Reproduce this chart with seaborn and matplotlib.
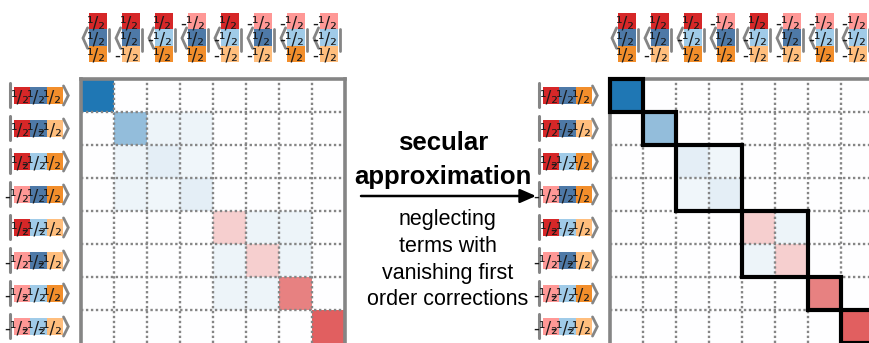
import numpy as np
import pandas as pd
import matplotlib
matplotlib.use("Agg")
import matplotlib.pyplot as plt
from matplotlib.colors import LinearSegmentedColormap
from matplotlib.patches import Rectangle
from matplotlib.lines import Line2D
import seaborn as sns

sns.set_theme(style="white")
plt.rcParams["font.family"] = ["Liberation Sans", "DejaVu Sans"]

# m_s of the three spins for each product basis state
spin_a = [0.5, 0.5, 0.5, -0.5, 0.5, -0.5, -0.5, -0.5]
spin_b = [0.5, 0.5, -0.5, 0.5, -0.5, 0.5, -0.5, -0.5]
spin_c = [0.5, -0.5, 0.5, 0.5, -0.5, -0.5, 0.5, -0.5]

# signed, normalised matrix elements in the product basis
full_matrix = [
    [1.00, 0.00, 0.00, 0.00, 0.00, 0.00, 0.00, 0.00],
    [0.00, 0.48, 0.08, 0.08, 0.00, 0.00, 0.00, 0.00],
    [0.00, 0.08, 0.12, 0.07, 0.00, 0.00, 0.00, 0.00],
    [0.00, 0.08, 0.07, 0.12, 0.00, 0.00, 0.00, 0.00],
    [0.00, 0.00, 0.00, 0.00, -0.22, 0.08, 0.08, 0.00],
    [0.00, 0.00, 0.00, 0.00, 0.08, -0.22, 0.08, 0.00],
    [0.00, 0.00, 0.00, 0.00, 0.08, 0.08, -0.58, 0.00],
    [0.00, 0.00, 0.00, 0.00, 0.00, 0.00, 0.00, -0.74],
]

# degenerate blocks kept by the secular approximation
secular_blocks = [[0], [1], [2, 3], [4, 5], [6], [7]]

# colours for +1/2 / -1/2 of each spin
palette_a = {0.5: "#d62728", -0.5: "#ff9896"}
palette_b = {0.5: "#4e79a7", -0.5: "#a0cbe8"}
palette_c = {0.5: "#f28e2b", -0.5: "#ffbe7d"}

GREY = "#858585"
TXT = "#1a1a1a"
PX = 1 / 33.0  # one pixel in cell units

full = pd.DataFrame(full_matrix)
mask = np.zeros((8, 8), dtype=bool)
for blk in secular_blocks:
    for i in blk:
        for j in blk:
            mask[i, j] = True
secular = full.where(mask, 0.0)

cmap = LinearSegmentedColormap.from_list("rwb", ["#d62728", "#ffffff", "#1f77b4"])

W, H = 869, 343
fig = plt.figure(figsize=(W / 100, H / 100), dpi=100)
fig.patch.set_facecolor("white")

CELL = 33.0
ax_l = fig.add_axes([81 / W, 0, 8 * CELL / W, 8 * CELL / H])
ax_r = fig.add_axes([610 / W, 0, 8 * CELL / W, 8 * CELL / H])


def half_label(v):
    return "\u00b9/\u2082" if v > 0 else "-\u00b9/\u2082"


def spin_text(ax, x_right, y_base, v):
    ax.text(x_right, y_base, half_label(v), ha="right", va="baseline",
            fontsize=12, family=["DejaVu Sans"], color=TXT,
            clip_on=False, zorder=3)


def draw_matrix(ax, data, right_spine=True):
    sns.heatmap(data, ax=ax, cmap=cmap, vmin=-1, vmax=1, cbar=False,
                xticklabels=False, yticklabels=False, square=False)
    ax.set_xlim(0, 8)
    ax.set_ylim(8, 0)
    for k in range(1, 8):
        ax.axhline(k, color=GREY, lw=1.7, ls=(0, (1, 1.1)), zorder=3)
        ax.axvline(k, color=GREY, lw=1.7, ls=(0, (1, 1.1)), zorder=3)
    for s in ["top", "left", "right", "bottom"]:
        ax.spines[s].set_visible(s != "bottom" and (right_spine or s != "right"))
        ax.spines[s].set_color(GREY)
        ax.spines[s].set_linewidth(2.6)
        ax.spines[s].set_zorder(4)
    ax.set_xlabel("")
    ax.set_ylabel("")

    spins = [(spin_a, palette_a), (spin_b, palette_b), (spin_c, palette_c)]
    bh = 0.495
    # bras above the columns
    for j in range(8):
        cx = j + 0.5
        for k, (vals, pal) in enumerate(spins):
            y0 = -2.0 + k * bh
            ax.add_patch(Rectangle((cx - 0.27, y0), 0.545, bh, fc=pal[vals[j]],
                                   ec="none", clip_on=False, zorder=2))
            spin_text(ax, cx + 0.275 - 0.8 * PX, y0 + bh - 1.2 * PX, vals[j])
        ax.add_line(Line2D([cx - 0.30, cx - 0.44, cx - 0.30], [-1.55, -1.24, -0.93],
                           color=GREY, lw=2.0, clip_on=False, solid_joinstyle="miter"))
        ax.add_line(Line2D([cx + 0.345, cx + 0.345], [-1.53, -0.84],
                           color=GREY, lw=2.0, clip_on=False))
    # kets left of the rows
    bw = 0.495
    for i in range(8):
        cy = i + 0.5
        for k, (vals, pal) in enumerate(spins):
            x0 = -2.03 + k * bw
            ax.add_patch(Rectangle((x0, cy - 0.245), bw, 0.49, fc=pal[vals[i]],
                                   ec="none", clip_on=False, zorder=2))
            spin_text(ax, x0 + bw - 0.8 * PX, cy + 0.245 - 1.2 * PX, vals[i])
        ax.add_line(Line2D([-2.14, -2.14], [cy - 0.37, cy + 0.36],
                           color=GREY, lw=2.2, clip_on=False))
        ax.add_line(Line2D([-0.53, -0.385, -0.53], [cy - 0.29, cy, cy + 0.29],
                           color=GREY, lw=2.0, clip_on=False, solid_joinstyle="miter"))


draw_matrix(ax_l, full)
draw_matrix(ax_r, secular, right_spine=False)

for blk in secular_blocks:
    n = len(blk)
    ax_r.add_patch(Rectangle((blk[0], blk[0]), n, n, fill=False, ec="black",
                             lw=3.0, clip_on=False, zorder=6))

# annotation between the two matrices
ax_m = fig.add_axes([0, 0, 1, 1], zorder=-1)
ax_m.set_xlim(0, W)
ax_m.set_ylim(H, 0)
ax_m.axis("off")
ax_m.text(443, 150, "secular", ha="center", va="baseline", fontsize=18.5,
          fontweight="bold", color="black")
ax_m.text(443, 184, "approximation", ha="center", va="baseline", fontsize=18.5,
          fontweight="bold", color="black")
ax_m.annotate("", xy=(536, 196), xytext=(361, 196),
              arrowprops=dict(arrowstyle="-|>,head_length=0.8,head_width=0.35",
                              color="black", lw=1.8, shrinkA=0, shrinkB=0))
for txt, yb in zip(["neglecting", "terms with", "vanishing first", "order corrections"],
                   [225, 252, 279, 305]):
    ax_m.text(448, yb, txt, ha="center", va="baseline", fontsize=15.5, color="black")

fig.savefig("out.png", dpi=100, facecolor="white")
